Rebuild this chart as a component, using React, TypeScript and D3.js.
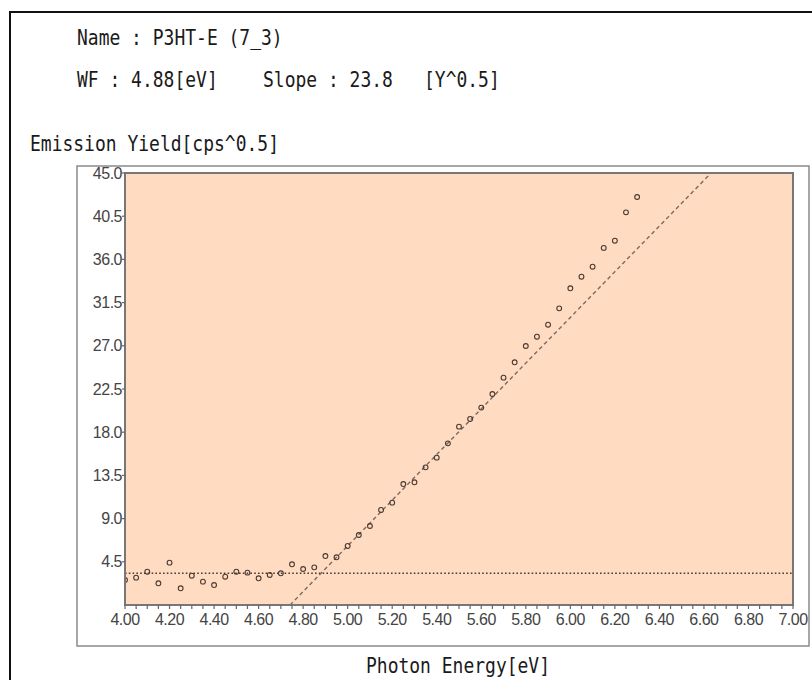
import React from "react";
import * as d3 from "d3";

const photonEnergy = [
  4.0, 4.05, 4.1, 4.15, 4.2, 4.25, 4.3, 4.35, 4.4, 4.45, 4.5, 4.55, 4.6, 4.65,
  4.7, 4.75, 4.8, 4.85, 4.9, 4.95, 5.0, 5.05, 5.1, 5.15, 5.2, 5.25, 5.3, 5.35,
  5.4, 5.45, 5.5, 5.55, 5.6, 5.65, 5.7, 5.75, 5.8, 5.85, 5.9, 5.95, 6.0, 6.05,
  6.1, 6.15, 6.2, 6.25, 6.3,
];
const emissionYield = [
  2.6, 2.85, 3.47, 2.26, 4.41, 1.74, 3.05, 2.43, 2.08, 2.95, 3.47, 3.37, 2.78,
  3.13, 3.3, 4.24, 3.75, 3.92, 5.1, 4.97, 6.15, 7.29, 8.23, 9.9, 10.66, 12.6,
  12.78, 14.34, 15.35, 16.84, 18.58, 19.38, 20.56, 21.98, 23.68, 25.28, 26.98,
  27.95, 29.2, 30.9, 32.99, 34.2, 35.24, 37.2, 37.95, 40.9, 42.5,
];
const xTickLabels = [
  "4.00", "4.20", "4.40", "4.60", "4.80", "5.00", "5.20", "5.40", "5.60",
  "5.80", "6.00", "6.20", "6.40", "6.60", "6.80", "7.00",
];
const yTickLabels = ["4.5", "9.0", "13.5", "18.0", "22.5", "27.0", "31.5", "36.0", "40.5", "45.0"];
const workFunction = 4.88;
const slope = 23.8;
const baseline = 3.3;
const sampleName = "P3HT-E (7_3)";

const W = 812;
const H = 680;
const plot = { left: 125, right: 793, top: 173, bottom: 605 };
const mono = "'DejaVu Sans Mono', monospace";
const sans = "'Liberation Sans', Arial, sans-serif";

export default function App() {
  const x = d3.scaleLinear().domain([4.0, 7.0]).range([plot.left, plot.right]);
  const y = d3.scaleLinear().domain([0, 45]).range([plot.bottom, plot.top]);
  const minorTicks = x.ticks(60);
  const fitX0 = workFunction + (0 - baseline) / slope;
  const fitX1 = workFunction + (45 - baseline) / slope;
  const fitLine = d3.line<[number, number]>().x((d) => x(d[0])).y((d) => y(d[1]))([
    [fitX0, 0],
    [fitX1, 45],
  ]);

  const headerText = (txt: string, tx: number, ty: number, anchor = "start") => (
    <g transform={`translate(${tx},${ty}) scale(1,1.15)`}>
      <text x={0} y={0} fontFamily={mono} fontSize={18} fill="#1a1a1a" textAnchor={anchor}>
        {txt}
      </text>
    </g>
  );

  return (
    <svg width={W} height={H} style={{ position: "absolute", left: 0, top: 0 }}>
      <rect x={0} y={0} width={W} height={H} fill="#fff" />
      <rect x={10} y={12} width={820} height={700} fill="none" stroke="#111" strokeWidth={2} />
      {headerText(`Name : ${sampleName}`, 77, 45)}
      {headerText(`WF : ${workFunction.toFixed(2)}[eV]`, 77, 87)}
      {headerText(`Slope : ${slope.toFixed(1)}`, 263, 87)}
      {headerText("[Y^0.5]", 424, 87)}
      {headerText("Emission Yield[cps^0.5]", 30, 151)}
      <rect x={77} y={166} width={732} height={480} fill="none" stroke="#8a8a8a" strokeWidth={1.5} />
      <rect
        x={plot.left}
        y={plot.top}
        width={plot.right - plot.left}
        height={plot.bottom - plot.top}
        fill="#FFDBC2"
      />
      <defs>
        <clipPath id="plotClip">
          <rect x={plot.left} y={plot.top} width={plot.right - plot.left} height={plot.bottom - plot.top} />
        </clipPath>
      </defs>
      <g clipPath="url(#plotClip)">
        <line
          x1={plot.left}
          x2={plot.right}
          y1={y(baseline)}
          y2={y(baseline)}
          stroke="#4a3a30"
          strokeWidth={1.4}
          strokeDasharray="1.6,2.2"
        />
        <path d={fitLine || ""} fill="none" stroke="#7a6a60" strokeWidth={1.4} strokeDasharray="4,3" />
        {photonEnergy.map((e, i) => (
          <circle
            key={i}
            cx={x(e)}
            cy={y(emissionYield[i])}
            r={2.4}
            fill="none"
            stroke="#4a3a30"
            strokeWidth={1.1}
          />
        ))}
      </g>
      <rect
        x={plot.left}
        y={plot.top}
        width={plot.right - plot.left}
        height={plot.bottom - plot.top}
        fill="none"
        stroke="#777"
        strokeWidth={2}
      />
      {minorTicks.map((t, i) => (
        <line key={i} x1={x(t)} x2={x(t)} y1={plot.bottom} y2={plot.bottom + 4} stroke="#666" strokeWidth={1.2} />
      ))}
      {xTickLabels.map((lab) => (
        <text
          key={lab}
          x={x(+lab)}
          y={625}
          textAnchor="middle"
          fontFamily={sans}
          fontSize={16}
          letterSpacing={-0.5}
          fill="#444"
        >
          {lab}
        </text>
      ))}
      {yTickLabels.map((lab) => (
        <g key={lab}>
          <line x1={plot.left - 3} x2={plot.left} y1={y(+lab)} y2={y(+lab)} stroke="#666" strokeWidth={1.2} />
          <text
            x={plot.left - 3}
            y={y(+lab) + 5.5}
            textAnchor="end"
            fontFamily={sans}
            fontSize={16}
            letterSpacing={-0.5}
            fill="#444"
          >
            {lab}
          </text>
        </g>
      ))}
      {headerText("Photon Energy[eV]", 458, 673, "middle")}
    </svg>
  );
}
